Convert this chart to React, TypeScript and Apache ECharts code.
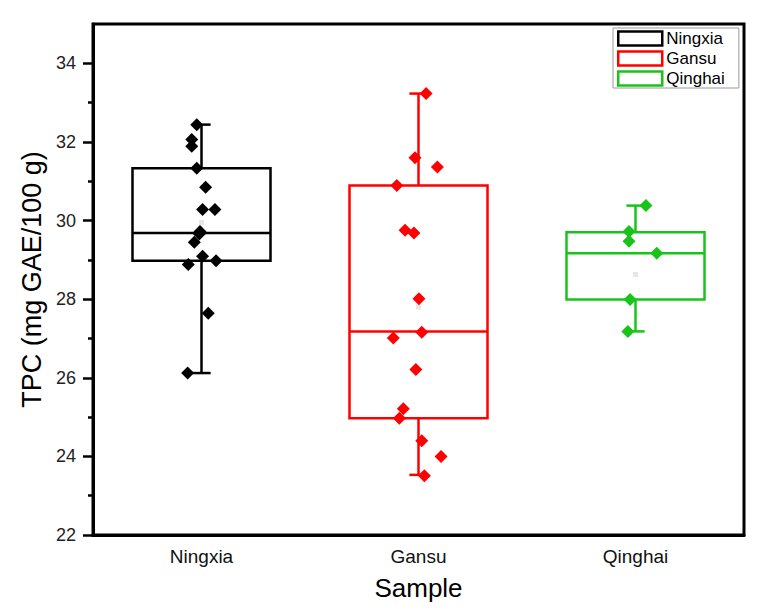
import React, { useEffect, useRef } from "react";
import * as echarts from "echarts";

const categories = ["Ningxia", "Gansu", "Qinghai"];
const seriesColors = ["#000000", "#ff0000", "#18c418"];

// box statistics: [min, Q1, median, Q3, max]
const ningxiaBox = [26.12, 28.98, 29.68, 31.33, 32.44];
const gansuBox = [23.53, 24.97, 27.18, 30.89, 33.23];
const qinghaiBox = [27.18, 27.99, 29.17, 29.7, 30.38];

// individual measurements and their horizontal jitter (category units)
const ningxiaValues = [32.44, 32.06, 31.89, 31.33, 30.85, 30.28, 30.28, 29.72, 29.66, 29.45, 29.09, 28.98, 28.88, 27.64, 26.12];
const ningxiaJitter = [-0.022, -0.045, -0.045, -0.022, 0.019, 0.005, 0.062, -0.007, -0.01, -0.033, 0.005, 0.067, -0.061, 0.031, -0.064];
const gansuValues = [33.23, 31.6, 31.36, 30.89, 29.75, 29.68, 28.01, 27.16, 27.01, 26.21, 25.21, 24.97, 24.4, 24.0, 23.51];
const gansuJitter = [0.035, -0.016, 0.087, -0.1, -0.062, -0.021, 0.002, 0.015, -0.116, -0.012, -0.07, -0.088, 0.015, 0.104, 0.027];
const qinghaiValues = [30.38, 29.72, 29.47, 29.17, 27.99, 27.18];
const qinghaiJitter = [0.048, -0.03, -0.03, 0.098, -0.025, -0.035];

const meanValues = [29.95, 27.8, 28.63];

const yMajorTicks = [22, 24, 26, 28, 30, 32, 34];
const yMinorTicks = [23, 25, 27, 29, 31, 33];

const boxes = [ningxiaBox, gansuBox, qinghaiBox];
const pointValues = [ningxiaValues, gansuValues, qinghaiValues];
const pointJitter = [ningxiaJitter, gansuJitter, qinghaiJitter];

const FONT = "Liberation Sans, Arial, sans-serif";

function makeRenderer(color: string) {
  return (params: any, api: any) => {
    const idx = api.value(0);
    const lo = api.coord([idx, api.value(1)]);
    const q1 = api.coord([idx, api.value(2)]);
    const med = api.coord([idx, api.value(3)]);
    const q3 = api.coord([idx, api.value(4)]);
    const hi = api.coord([idx, api.value(5)]);
    const band = api.size([1, 0])[0];
    const half = band * 0.318;
    const cap = band * 0.042;
    const x = lo[0];
    const style = { stroke: color, lineWidth: 2.5, fill: "none" };
    return {
      type: "group",
      children: [
        { type: "line", shape: { x1: x, y1: q3[1], x2: x, y2: hi[1] }, style },
        { type: "line", shape: { x1: x, y1: q1[1], x2: x, y2: lo[1] }, style },
        { type: "line", shape: { x1: x - cap, y1: hi[1], x2: x + cap, y2: hi[1] }, style },
        { type: "line", shape: { x1: x - cap, y1: lo[1], x2: x + cap, y2: lo[1] }, style },
        {
          type: "rect",
          shape: { x: x - half, y: q3[1], width: 2 * half, height: q1[1] - q3[1] },
          style: { stroke: color, lineWidth: 2.5, fill: "rgba(255,255,255,0)" },
        },
        { type: "line", shape: { x1: x - half, y1: med[1], x2: x + half, y2: med[1] }, style },
      ],
    };
  };
}

export default function App() {
  const ref = useRef<HTMLDivElement>(null);
  useEffect(() => {
    if (!ref.current) return;
    const chart = echarts.init(ref.current, undefined, { renderer: "svg" });
    const series: any[] = [];
    categories.forEach((name, i) => {
      series.push({
        name,
        type: "custom",
        xAxisIndex: 0,
        yAxisIndex: 0,
        renderItem: makeRenderer(seriesColors[i]),
        itemStyle: { color: seriesColors[i] },
        data: [[i, ...boxes[i]]],
        z: 2,
      });
    });
    categories.forEach((name, i) => {
      series.push({
        name,
        type: "scatter",
        xAxisIndex: 1,
        yAxisIndex: 0,
        symbol: "diamond",
        symbolSize: 13,
        itemStyle: { color: seriesColors[i], opacity: 1 },
        data: pointValues[i].map((v, k) => [i + pointJitter[i][k], v]),
        z: 3,
      });
    });
    series.push({
      name: "mean",
      type: "scatter",
      xAxisIndex: 1,
      yAxisIndex: 0,
      symbol: "rect",
      symbolSize: 5,
      itemStyle: { color: "#e6e6e6", opacity: 1 },
      data: meanValues.map((v, i) => [i, v]),
      z: 1,
    });

    chart.setOption({
      animation: false,
      backgroundColor: "#ffffff",
      grid: {
        left: 93,
        right: 13,
        top: 24,
        bottom: 81,
        show: true,
        borderColor: "#000",
        borderWidth: 3,
        containLabel: false,
      },
      legend: {
        orient: "vertical",
        left: 613,
        top: 28,
        itemWidth: 44,
        itemHeight: 14,
        itemGap: 3,
        padding: [2, 14, 1, 4],
        borderColor: "#9a9a9a",
        borderWidth: 1,
        backgroundColor: "#fff",
        textStyle: { fontFamily: FONT, fontSize: 17, lineHeight: 17, color: "#000", padding: [0, 0, 0, -1] },
        data: categories.map((name, i) => ({
          name,
          icon: "rect",
          itemStyle: { color: "#ffffff", borderColor: seriesColors[i], borderWidth: 2.5 },
        })),
      },
      xAxis: [
        {
          type: "category",
          data: categories,
          boundaryGap: true,
          name: "Sample",
          nameLocation: "middle",
          nameGap: 40,
          nameTextStyle: { fontFamily: FONT, fontSize: 26, color: "#000" },
          axisLine: { onZero: false, lineStyle: { color: "#000", width: 3 } },
          axisTick: { alignWithLabel: true, length: 8, lineStyle: { width: 2.5, color: "#000" } },
          axisLabel: { fontFamily: FONT, fontSize: 19, color: "#111", margin: 12 },
          splitLine: { show: false },
        },
        {
          type: "value",
          min: -0.5,
          max: 2.5,
          show: false,
          axisLine: { onZero: false },
        },
      ],
      yAxis: [
        {
          type: "value",
          min: 22,
          max: 35,
          name: "TPC (mg GAE/100 g)",
          nameLocation: "middle",
          nameGap: 48,
          nameTextStyle: { fontFamily: FONT, fontSize: 27, color: "#000" },
          axisLine: { show: true, onZero: false, lineStyle: { color: "#000", width: 3 } },
          axisTick: { show: true, length: 10, customValues: yMajorTicks, lineStyle: { width: 2.5, color: "#000" } },
          axisLabel: { fontFamily: FONT, fontSize: 18, color: "#222", margin: 17, customValues: yMajorTicks },
          splitLine: { show: false },
        },
        {
          type: "value",
          min: 22,
          max: 35,
          position: "left",
          axisLine: { show: false, onZero: false },
          axisTick: { show: true, length: 5, customValues: yMinorTicks, lineStyle: { width: 2.5, color: "#000" } },
          axisLabel: { show: false },
          splitLine: { show: false },
        },
      ],
      series,
    });
    return () => chart.dispose();
  }, []);
  return <div ref={ref} style={{ width: 757, height: 616, margin: -8 }} />;
}
